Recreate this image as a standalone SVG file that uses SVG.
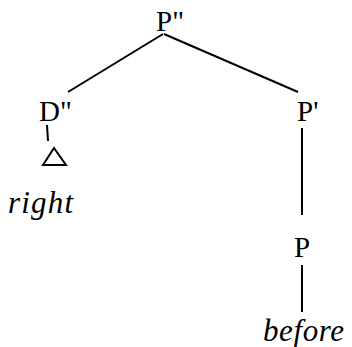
<svg xmlns="http://www.w3.org/2000/svg" width="352" height="347" viewBox="0 0 352 347">
<style>
.lbl{font-family:"Liberation Serif","Times New Roman",serif;font-size:29px;fill:#000}
.word{font-family:"Liberation Serif","Times New Roman",serif;font-size:31px;font-style:italic;fill:#000}
.edge{stroke:#000;stroke-width:2;fill:none}
</style>
<rect width="352" height="347" fill="#fff"/>
<g id="connectors">
<line class="edge" x1="163" y1="34" x2="68" y2="92"/>
<line class="edge" x1="164" y1="34" x2="298" y2="92"/>
<line class="edge" x1="47" y1="125" x2="48" y2="141"/>
<line class="edge" x1="302" y1="128" x2="302" y2="215"/>
<line class="edge" x1="302" y1="265" x2="302" y2="312"/>
</g>
<g id="node-P2"><text class="lbl" x="156" y="31">P"</text></g>
<g id="node-D2"><text class="lbl" x="39" y="121">D"</text></g>
<g id="node-triangle"><polygon points="54,148 43,165 66,165" fill="none" stroke="#000" stroke-width="2"/></g>
<g id="node-right"><text class="word" x="8" y="213" textLength="65" lengthAdjust="spacing">right</text></g>
<g id="node-P1"><text class="lbl" x="297" y="121">P'</text></g>
<g id="node-P"><text class="lbl" x="294" y="257">P</text></g>
<g id="node-before"><text class="word" x="263" y="341" textLength="81" lengthAdjust="spacing">before</text></g>
</svg>
